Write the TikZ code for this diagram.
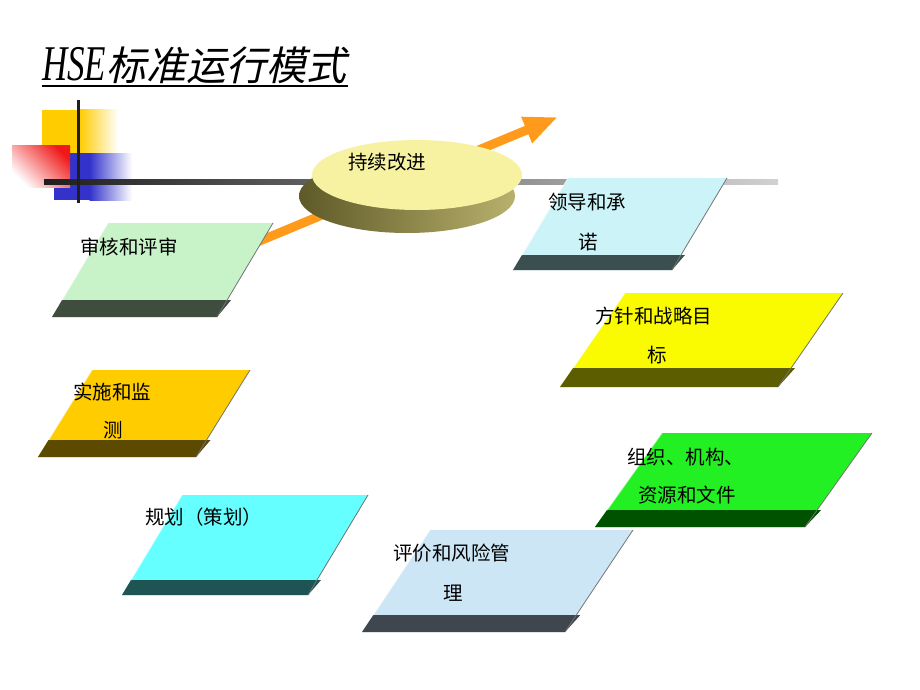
\documentclass[tikz,border=0pt]{standalone}
\usepackage{fontspec}
\setmainfont{Liberation Serif}
\newfontfamily\cjk{Noto Sans CJK SC}
\newfontfamily\cjktitle[FakeSlant=0.22]{Noto Sans CJK SC}
\usetikzlibrary{arrows.meta,shapes.geometric}
\definecolor{orangearr}{HTML}{FF9A1A}
\definecolor{elltop}{HTML}{F7F2A2}
\definecolor{ellside}{HTML}{5E5A28}
\definecolor{ellsidelight}{HTML}{B8B06C}
\definecolor{decoyel}{HTML}{FFCC00}
\definecolor{decoblue}{HTML}{3333CC}
\definecolor{decored}{HTML}{F01818}
\definecolor{fA}{HTML}{C8F2C8}\definecolor{sA}{HTML}{3F4D3F}
\definecolor{fB}{HTML}{CCF4F8}\definecolor{sB}{HTML}{3B4F50}
\definecolor{fC}{HTML}{FAFA00}\definecolor{sC}{HTML}{5C5C00}
\definecolor{fD}{HTML}{FFCC00}\definecolor{sD}{HTML}{5C4A00}
\definecolor{fE}{HTML}{22F022}\definecolor{sE}{HTML}{005200}
\definecolor{fF}{HTML}{66FFFF}\definecolor{sF}{HTML}{1F5454}
\definecolor{fG}{HTML}{CCE6F6}\definecolor{sG}{HTML}{3F464E}
\tikzset{
  lbl/.style={anchor=west,inner sep=0pt,font=\cjk\fontsize{19.5}{22}\selectfont,text=black},
  boxedge/.style={draw=black!55,line width=0.8pt},
}
% \hsebox{x0}{y0}{w}{h}{s}{d}{face}{strip}
\newcommand\hsebox[8]{%
  \pgfmathsetmacro\bxl{#1-#5}%
  \pgfmathsetmacro\bxr{#1+#3-#5}%
  \pgfmathsetmacro\byb{#2+#4}%
  \pgfmathsetmacro\sxl{#1-#5+#5*#6/#4}%
  \pgfmathsetmacro\sxr{#1+#3-#5+#5*#6/#4}%
  \pgfmathsetmacro\syt{#2+#4-#6}%
  \fill[#7] (#1,#2) -- (#1+#3,#2) -- (\bxr,\byb) -- (\bxl,\byb) -- cycle;
  \fill[#8] (\sxl,\syt) -- (\sxr+4,\syt) -- (\bxr,\byb) -- (\bxl,\byb) -- cycle;
  \draw[boxedge] (#1+#3,#2) -- (\bxr,\byb);
  \draw[white,opacity=0.5,line width=1.2pt] (#1,#2) -- (\sxl,\syt);
}
\begin{document}
\begin{tikzpicture}[x=1pt,y=-1pt]
\useasboundingbox (0,0) rectangle (920,690);
\fill[white] (0,0) rectangle (920,690);
% title
\node[anchor=base west,inner sep=0pt] (title) at (42,81)
  {\scalebox{0.7}[1]{\fontsize{50}{50}\selectfont\itshape HSE}\cjktitle\fontsize{40}{40}\selectfont 标准运行模式};
\draw[line width=1.6pt] (42,86) -- (348,86);
% decoration squares
\fill[decoyel] (42,110) rectangle (80,153);
\shade[left color=decoyel,right color=white] (79.5,110) rectangle (118,153);
\fill[decoblue] (54,153) rectangle (90,200);
\shade[left color=decoblue,right color=white] (89.5,153) rectangle (132,200);
\shade[bottom color=white,top color=decored,shading angle=-45] (12,145) rectangle (70,187);
% horizontal line
\shade[left color=black!88,right color=black!18] (44,179) rectangle (778,184);
\draw[line width=3pt,black!88] (78,100) -- (78,203);
% orange arrow
\coordinate (arrtail) at (250,245);
\coordinate (arrtip) at (558,117);
\draw[orangearr,line width=9pt,-{Triangle[length=34pt,width=26pt]}] (arrtail) -- (arrtip);
% ellipse (continuous improvement)
\shade[left color=ellside,right color=ellsidelight] (407,196) ellipse [x radius=108,y radius=37];
\fill[elltop] (417,175) ellipse [x radius=105,y radius=35];
\node[lbl,anchor=center] (ci) at (387,162) {持续改进};
% boxes
\hsebox{108}{223}{165}{94}{56}{17}{fA}{sA}
\node[lbl] (audit) at (80,247) {审核和评审};
\hsebox{568}{178}{159}{92}{55}{15}{fB}{sB}
\node[lbl] (lead1) at (548,202) {领导和承};
\node[lbl] (lead2) at (578,242) {诺};
\hsebox{625}{293}{218}{94}{65}{19}{fC}{sC}
\node[lbl] (pol1) at (595,316) {方针和战略目};
\node[lbl] (pol2) at (647,355) {标};
\hsebox{92}{370}{158}{87}{54}{17}{fD}{sD}
\node[lbl] (imp1) at (73,392) {实施和监};
\node[lbl] (imp2) at (103,430) {测};
\hsebox{662}{433}{210}{94}{67}{17}{fE}{sE}
\node[lbl] (org1) at (627,457) {组织、机构、};
\node[lbl] (org2) at (638,495) {资源和文件};
\hsebox{182}{495}{186}{100}{60}{15}{fF}{sF}
\node[lbl] (plan) at (145,517) {规划（策划）};
\hsebox{430}{530}{203}{102}{68}{17}{fG}{sG}
\node[lbl] (risk1) at (393,553) {评价和风险管};
\node[lbl] (risk2) at (443,593) {理};
\end{tikzpicture}
\end{document}
